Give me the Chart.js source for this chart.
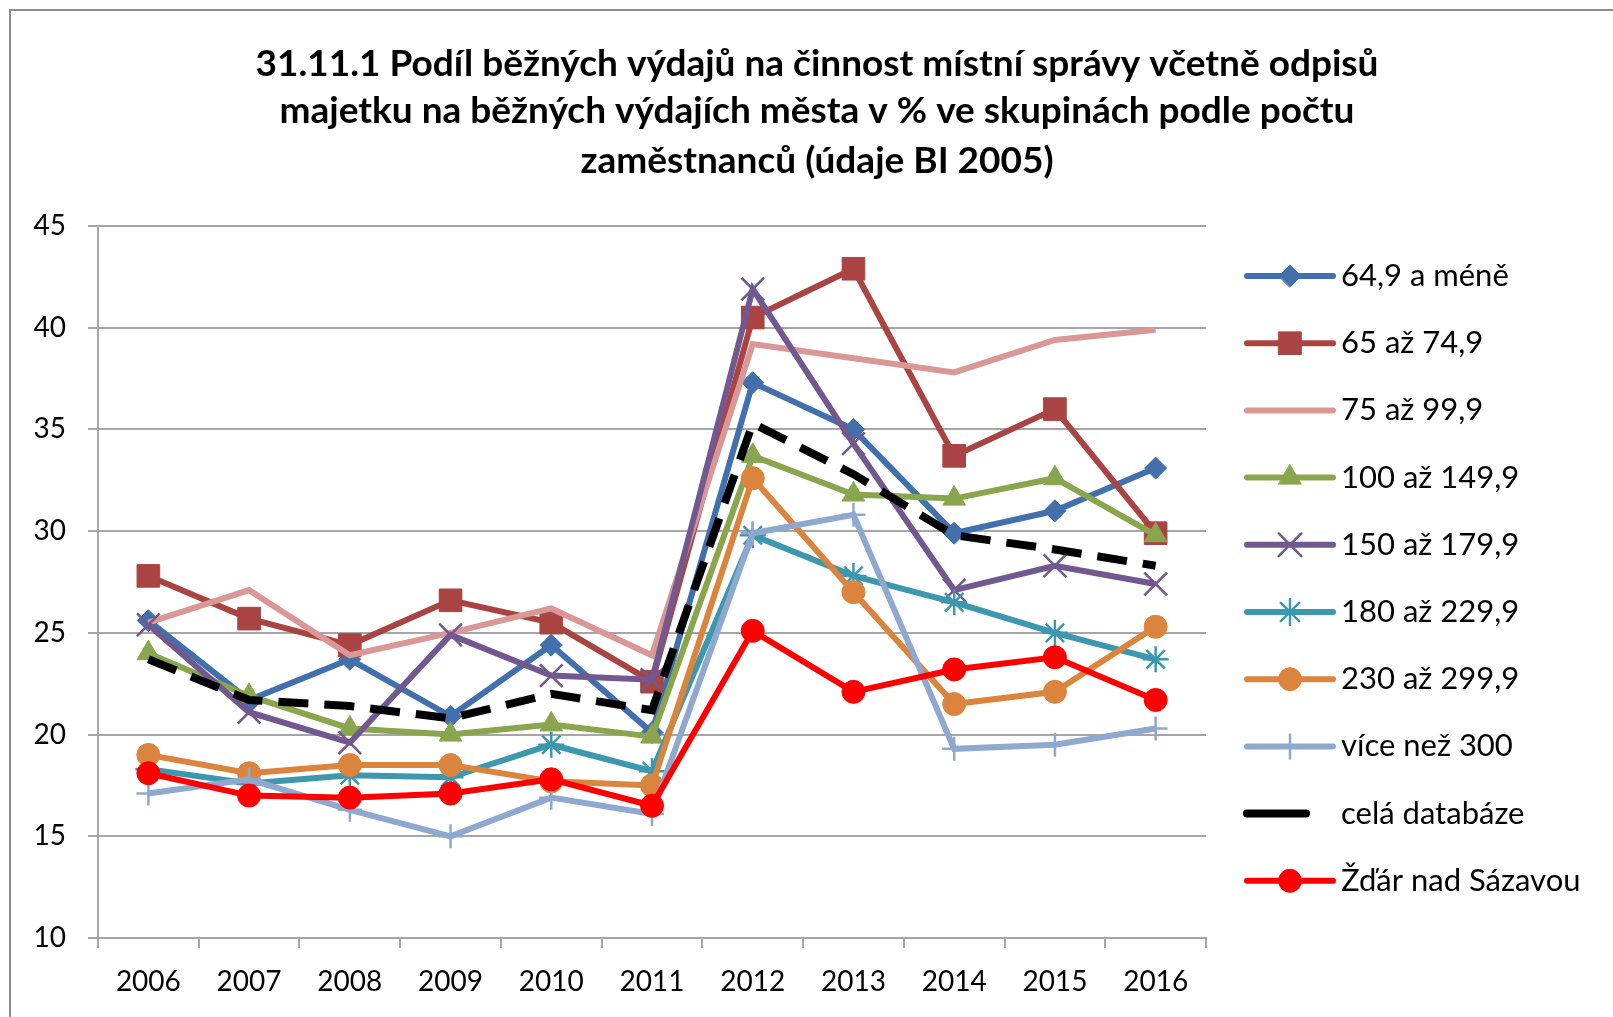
<!DOCTYPE html>
<html>
<head>
<meta charset="utf-8">
<script src="https://cdn.jsdelivr.net/npm/chart.js@4/dist/chart.umd.min.js"></script>
<style>
    html, body { margin: 0; padding: 0; background: #fff; }
    canvas { display: block; }
</style>
</head>
<body>
<canvas id="lineChart" width="1613" height="1017"></canvas>
<script>
const years = ['2006', '2007', '2008', '2009', '2010', '2011', '2012', '2013', '2014', '2015', '2016'];

const titleLines = [
    '31.11.1 Podíl běžných výdajů na činnost místní správy včetně odpisů',
    'majetku na běžných výdajích města v % ve skupinách podle počtu',
    'zaměstnanců (údaje BI 2005)'
];

const seriesNames = [
    '64,9 a méně', '65 až 74,9', '75 až 99,9', '100 až 149,9', '150 až 179,9',
    '180 až 229,9', '230 až 299,9', 'více než 300', 'celá databáze', 'Žďár nad Sázavou'
];

const values649 = [25.6, 21.7, 23.7, 20.9, 24.4, 20.1, 37.3, 35.0, 29.9, 31.0, 33.1];
const values65 = [27.8, 25.7, 24.4, 26.6, 25.5, 22.6, 40.5, 42.9, 33.7, 36.0, 29.9];
const values75 = [25.5, 27.1, 23.9, 25.0, 26.2, 23.9, 39.2, 38.5, 37.8, 39.4, 39.9];
const values100 = [24.0, 21.9, 20.3, 20.0, 20.5, 19.9, 33.7, 31.8, 31.6, 32.6, 29.8];
const values150 = [25.4, 21.1, 19.6, 24.9, 22.9, 22.7, 41.9, 34.3, 27.1, 28.3, 27.4];
const values180 = [18.3, 17.6, 18.0, 17.9, 19.5, 18.2, 29.8, 27.8, 26.5, 25.0, 23.7];
const values230 = [19.0, 18.1, 18.5, 18.5, 17.7, 17.5, 32.6, 27.0, 21.5, 22.1, 25.3];
const values300 = [17.1, 17.8, 16.3, 15.0, 16.9, 16.1, 29.9, 30.8, 19.3, 19.5, 20.3];
const valuesDatabaze = [23.7, 21.7, 21.4, 20.8, 22.0, 21.2, 35.3, 32.8, 29.8, 29.1, 28.3];
const valuesZdar = [18.1, 17.0, 16.9, 17.1, 17.8, 16.5, 25.1, 22.1, 23.2, 23.8, 21.7];

const seriesValues = [values649, values65, values75, values100, values150,
    values180, values230, values300, valuesDatabaze, valuesZdar];

const seriesColors = ['#4170AD', '#AA4442', '#D99795', '#89A54E', '#71588F',
    '#3D97AF', '#DB843D', '#8FA8D0', '#000000', '#FF0000'];

// marker style, radius, border width (0 = no marker)
const markerStyles = ['rectRot', 'rect', false, 'triangle', 'crossRot', 'star', 'circle', 'cross', false, 'circle'];
const markerSizes = [11, 16, 0, 13, 16, 13, 11.5, 12, 0, 11.5];
const markerBorders = [1, 1, 0, 1, 2.5, 2.5, 1, 2.5, 0, 1];

const FONT = 'Lato, "Open Sans", sans-serif';
const GRID = '#A6A6A6';


function drawMarker(ctx, style, radius, borderWidth, x, y) {
    if (!style) return;
    if (Chart.helpers && Chart.helpers.drawPoint) {
        Chart.helpers.drawPoint(ctx, { pointStyle: style, radius: radius, rotation: 0, borderWidth: borderWidth }, x, y);
        return;
    }
    ctx.beginPath();
    ctx.arc(x, y, radius, 0, Math.PI * 2);
    ctx.fill();
}

// title, legend and chart frame the way Excel puts them
const excelLayout = {
    id: 'excelLayout',
    beforeDraw(chart) {
        const ctx = chart.ctx;
        ctx.save();
        ctx.fillStyle = '#ffffff';
        ctx.fillRect(0, 0, chart.width, chart.height);
        ctx.strokeStyle = '#8C8C8C';
        ctx.lineWidth = 2;
        ctx.strokeRect(10, 10, chart.width + 20, chart.height + 20);
        ctx.restore();
    },
    afterDraw(chart) {
        const ctx = chart.ctx;
        ctx.save();

        ctx.fillStyle = '#000';
        ctx.textAlign = 'center';
        ctx.textBaseline = 'middle';
        ctx.font = 'bold 37px ' + FONT;
        const titleY = [64, 111, 161];
        titleLines.forEach((line, i) => ctx.fillText(line, 817, titleY[i]));

        ctx.font = '31px ' + FONT;
        ctx.textAlign = 'left';
        chart.data.datasets.forEach((ds, i) => {
            const y = 276 + i * 67.2;
            ctx.strokeStyle = ds.borderColor;
            ctx.fillStyle = ds.borderColor;
            ctx.lineWidth = ds.borderWidth;
            ctx.lineCap = 'round';
            ctx.beginPath();
            ctx.moveTo(1247, y);
            ctx.lineTo(ds.borderDash.length ? 1306 : 1333, y);
            ctx.stroke();
            ctx.lineWidth = ds.pointBorderWidth;
            drawMarker(ctx, ds.pointStyle, ds.pointRadius, ds.pointBorderWidth, 1290, y);
            ctx.fillStyle = '#000';
            ctx.fillText(ds.label, 1341, y);
        });
        ctx.restore();
    }
};


function buildDatasets() {
    return seriesNames.map((name, i) => ({
        label: name,
        data: seriesValues[i],
        borderColor: seriesColors[i],
        backgroundColor: seriesColors[i],
        borderWidth: i === 8 ? 8 : 6,
        borderDash: i === 8 ? [30, 16] : [],
        pointStyle: markerStyles[i],
        pointRadius: markerSizes[i],
        pointBorderWidth: markerBorders[i],
        pointBackgroundColor: seriesColors[i],
        pointBorderColor: seriesColors[i],
        tension: 0,
        fill: false,
        order: -i
    }));
}

new Chart(document.getElementById('lineChart').getContext('2d'), {
    type: 'line',
    data: {
        labels: years,
        datasets: buildDatasets()
    },
    options: {
        responsive: false,
        animation: false,
        layout: {
            padding: { top: 226, right: 407, bottom: 0, left: 0 }
        },
        plugins: {
            legend: { display: false },
            title: { display: false },
            tooltip: { enabled: false }
        },
        scales: {
            x: {
                offset: true,
                afterFit: (scale) => { scale.height = 79; },
                grid: {
                    offset: true,
                    drawOnChartArea: false,
                    drawTicks: true,
                    tickLength: 10,
                    color: GRID,
                    lineWidth: 2
                },
                border: { color: GRID, width: 2 },
                ticks: {
                    color: '#000',
                    padding: 17,
                    maxRotation: 0,
                    font: { family: FONT, size: 28 }
                }
            },
            y: {
                min: 10,
                max: 45,
                afterFit: (scale) => { scale.width = 98; },
                grid: {
                    color: GRID,
                    lineWidth: 2,
                    drawTicks: true,
                    tickLength: 10
                },
                border: { color: GRID, width: 2 },
                ticks: {
                    stepSize: 5,
                    color: '#000',
                    padding: 22,
                    font: { family: FONT, size: 28 }
                }
            }
        }
    },
    plugins: [excelLayout]
});
</script>
</body>
</html>
